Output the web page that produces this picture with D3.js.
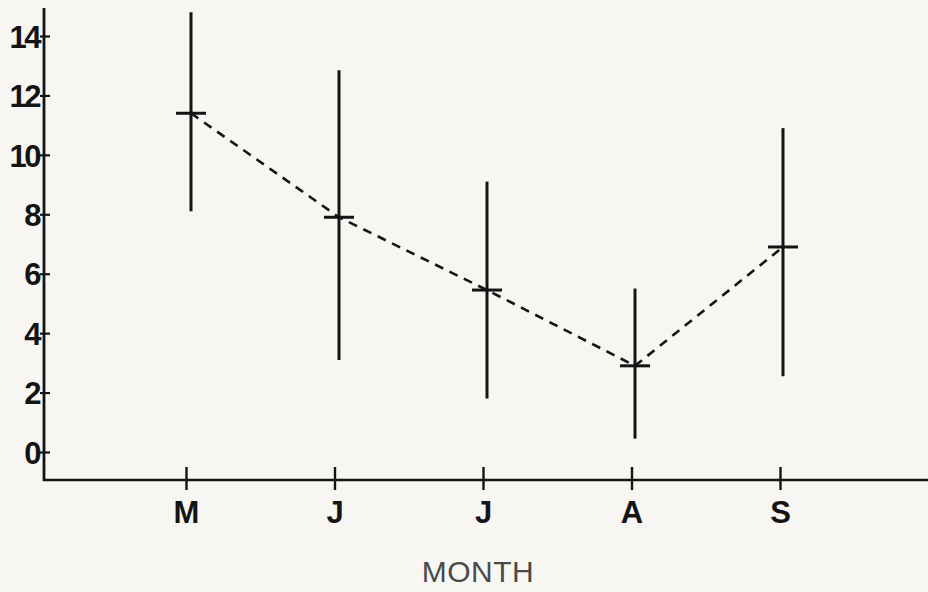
<!DOCTYPE html>
<html>
<head>
<meta charset="utf-8">
<script src="https://cdn.jsdelivr.net/npm/d3@7"></script>
<style>
  html, body { margin: 0; padding: 0; background: #f7f6f2; }
  svg { display: block; }
</style>
</head>
<body>
<svg id="chart" width="928" height="592"></svg>
<script>
// ---- data ----
const months = ["M", "J", "J", "A", "S"];
const meanValues = [11.4, 7.9, 5.45, 2.9, 6.9];
const upperValues = [14.8, 12.85, 9.1, 5.5, 10.9];
const lowerValues = [8.1, 3.1, 1.8, 0.45, 2.55];
const yTicks = [0, 2, 4, 6, 8, 10, 12, 14];
const xTitle = "MONTH";

// ---- layout ----
const W = 928, H = 592;
const axisX = 44, axisY = 480, axisTop = 8;
const ink = "#141414";
const svg = d3.select("#chart");
svg.append("rect").attr("width", W).attr("height", H).attr("fill", "#f7f6f2");

const idx = months.map((d, i) => String(i));
const y = d3.scaleLinear().domain([0, 14]).range([452, 36]);
const xTick = d3.scalePoint().domain(idx).range([186, 780]);
const xMark = d3.scalePoint().domain(idx).range([191, 783]);

// y axis
const yAxis = d3.axisLeft(y).tickValues(yTicks).tickSize(0).tickPadding(5);
const gy = svg.append("g").attr("transform", `translate(${axisX},0)`).call(yAxis);
gy.select(".domain").remove();
gy.selectAll(".tick line").attr("x1", -4).attr("x2", 6)
  .attr("stroke", ink).attr("stroke-width", 2.2);
gy.selectAll(".tick text")
  .attr("font-family", "'Liberation Sans', Arial, sans-serif")
  .attr("font-weight", "bold").attr("font-size", 31)
  .attr("letter-spacing", -2.5).attr("fill", ink).attr("dy", "0.36em");
svg.append("line").attr("x1", axisX).attr("x2", axisX)
  .attr("y1", axisTop).attr("y2", axisY + 1)
  .attr("stroke", ink).attr("stroke-width", 2.8);

// x axis
const xAxis = d3.axisBottom(xTick).tickSize(0).tickPadding(21).tickFormat(i => months[+i]);
const gx = svg.append("g").attr("transform", `translate(0,${axisY})`).call(xAxis);
gx.select(".domain").remove();
gx.selectAll(".tick line").attr("y1", -13).attr("y2", 10)
  .attr("stroke", ink).attr("stroke-width", 2.4);
gx.selectAll(".tick text")
  .attr("font-family", "'Liberation Sans', Arial, sans-serif")
  .attr("font-weight", "bold").attr("font-size", 31)
  .attr("fill", ink);
svg.append("line").attr("x1", axisX - 1).attr("x2", W)
  .attr("y1", axisY).attr("y2", axisY)
  .attr("stroke", ink).attr("stroke-width", 2.6);

// x title
svg.append("text").attr("x", 478).attr("y", 582)
  .attr("text-anchor", "middle")
  .attr("font-family", "'Liberation Sans', Arial, sans-serif")
  .attr("font-size", 30).attr("letter-spacing", 0.5)
  .attr("fill", "#4a4a4a").text(xTitle);

// dashed mean line
const line = d3.line().x((d, i) => xMark(String(i))).y(d => y(d));
svg.append("path").datum(meanValues).attr("d", line)
  .attr("fill", "none").attr("stroke", ink).attr("stroke-width", 2.6)
  .attr("stroke-dasharray", "9,7");

// error bars
const g = svg.append("g");
g.selectAll(".vbar").data(idx).join("line")
  .attr("x1", d => xMark(d)).attr("x2", d => xMark(d))
  .attr("y1", d => y(upperValues[+d])).attr("y2", d => y(lowerValues[+d]))
  .attr("stroke", ink).attr("stroke-width", 3);
g.selectAll(".mbar").data(idx).join("line")
  .attr("x1", d => xMark(d) - 15).attr("x2", d => xMark(d) + 15)
  .attr("y1", d => y(meanValues[+d])).attr("y2", d => y(meanValues[+d]))
  .attr("stroke", ink).attr("stroke-width", 3);
</script>
</body>
</html>
